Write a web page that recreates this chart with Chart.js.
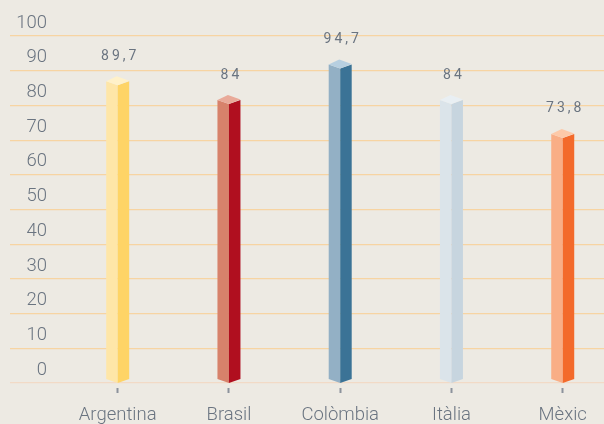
<!DOCTYPE html>
<html>
<head>
<meta charset="utf-8">
<script src="https://cdn.jsdelivr.net/npm/chart.js@4/dist/chart.umd.min.js"></script>
<style>
  html, body { margin: 0; padding: 0; background: #edeae3; overflow: hidden; }
  #wrap { width: 604px; height: 424px; position: relative; }
</style>
</head>
<body>
<div id="wrap"><canvas id="c" width="604" height="424"></canvas></div>
<script>
const categories = ['Argentina', 'Brasil', 'Colòmbia', 'Itàlia', 'Mèxic'];
const values = [89.7, 84, 94.7, 84, 73.8];
const yTicks = [0, 10, 20, 30, 40, 50, 60, 70, 80, 90, 100];
const leftColors  = ['#fee6a8', '#d7826b', '#93b0c5', '#dbe4ea', '#f9ae86'];
const rightColors = ['#fed466', '#b00f1f', '#3b7396', '#c7d5df', '#f36a2b'];
const capColors   = ['#fff1c9', '#e9aa99', '#b7cfe0', '#e9eff3', '#fdc9a8'];

const textColor = '#6a7480';
const gridColor = '#f7d4a2';
const FONT = 'Roboto, "Liberation Sans", sans-serif';
const TICK_FONT = { family: FONT, size: 18.5, weight: 300 };

const mctx = document.createElement('canvas').getContext('2d');
mctx.font = '300 18.5px ' + FONT;
const widestY = Math.max(...yTicks.map(v => mctx.measureText(String(v)).width));

const prismPlugin = {
  id: 'prism',
  afterDatasetsDraw(chart) {
    const ctx = chart.ctx;
    const meta = chart.getDatasetMeta(0);
    meta.data.forEach((el, i) => {
      const cx = el.x;
      const top = el.y;
      const base = el.base;
      const hw = el.width / 2;
      const dn = 4, up = 5;
      ctx.save();
      ctx.fillStyle = leftColors[i];
      ctx.beginPath();
      ctx.moveTo(cx - hw, top);
      ctx.lineTo(cx, top + dn);
      ctx.lineTo(cx, base + dn);
      ctx.lineTo(cx - hw, base);
      ctx.closePath();
      ctx.fill();
      ctx.fillStyle = rightColors[i];
      ctx.beginPath();
      ctx.moveTo(cx, top + dn);
      ctx.lineTo(cx + hw, top);
      ctx.lineTo(cx + hw, base);
      ctx.lineTo(cx, base + dn);
      ctx.closePath();
      ctx.fill();
      ctx.fillStyle = capColors[i];
      ctx.beginPath();
      ctx.moveTo(cx - hw, top);
      ctx.lineTo(cx - 1, top - up);
      ctx.lineTo(cx + hw, top - 0.5);
      ctx.lineTo(cx, top + dn);
      ctx.closePath();
      ctx.fill();
      ctx.fillStyle = textColor;
      ctx.font = '14px ' + FONT;
      ctx.letterSpacing = '3px';
      ctx.textAlign = 'center';
      ctx.textBaseline = 'middle';
      const txt = String(values[i]).replace('.', ',');
      ctx.fillText(txt, cx + 2.5, top - 25);
      ctx.restore();
    });
  }
};

new Chart(document.getElementById('c'), {
  type: 'bar',
  data: {
    datasets: [{
      data: values.map((v, i) => ({ x: i, y: v })),
      yAxisID: 'yBar',
      barThickness: 23,
      backgroundColor: 'rgba(0,0,0,0)',
      borderWidth: 0
    }]
  },
  options: {
    responsive: false,
    animation: false,
    events: [],
    layout: { padding: { top: 36, left: 0, right: 0, bottom: 0 } },
    plugins: { legend: { display: false }, tooltip: { enabled: false } },
    scales: {
      x: {
        type: 'linear',
        offset: false,
        min: -0.968,
        max: 4.371,
        afterBuildTicks: (s) => { s.ticks = categories.map((c, i) => ({ value: i })); },
        afterFit: (s) => { s.height = 36; },
        ticks: {
          callback: (v) => categories[v],
          color: textColor,
          font: TICK_FONT,
          padding: 11,
          maxRotation: 0,
          autoSkip: false
        },
        grid: {
          offset: false,
          drawOnChartArea: false,
          drawTicks: true,
          tickLength: 5,
          tickColor: '#8c939c',
          tickWidth: 2
        },
        border: { display: false }
      },
      y: {
        type: 'linear',
        position: 'left',
        min: -1.44,
        max: 100,
        afterBuildTicks: (s) => { s.ticks = yTicks.map(v => ({ value: v })); },
        afterFit: (s) => { s.width = 10; },
        ticks: {
          mirror: true,
          crossAlign: 'far',
          color: textColor,
          font: TICK_FONT,
          padding: 37 - widestY,
          labelOffset: -13
        },
        grid: {
          color: (c) => (c.tick && c.tick.value === 0) ? '#f2dac6' : gridColor,
          lineWidth: 1.2,
          drawTicks: false
        },
        border: { display: false }
      },
      yBar: {
        type: 'linear',
        display: false,
        min: -2.71,
        max: 103.31
      }
    }
  },
  plugins: [prismPlugin]
});
</script>
</body>
</html>
